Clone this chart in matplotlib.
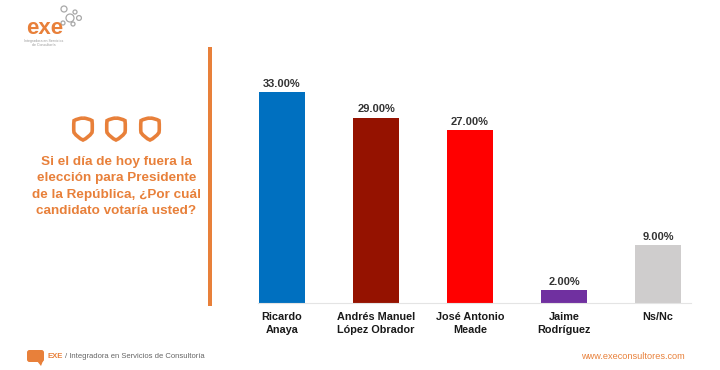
import matplotlib
matplotlib.use("Agg")
import matplotlib.pyplot as plt
from matplotlib.patches import Circle, FancyBboxPatch, PathPatch, Polygon, Rectangle
from matplotlib.path import Path

categories = ["Ricardo\nAnaya", "Andrés Manuel\nLópez Obrador", "José Antonio\nMeade", "Jaime\nRodríguez", "Ns/Nc"]
values = [33, 29, 27, 2, 9]
colors = ["#0070c0", "#951200", "#ff0000", "#7030a0", "#cfcdcd"]
question = "Si el día de hoy fuera la\nelección para Presidente\nde la República, ¿Por cuál\ncandidato votaría usted?"

ORANGE = "#e8803a"
plt.rcParams["font.family"] = ["Liberation Sans", "DejaVu Sans"]
W, H = 720, 370
fig = plt.figure(figsize=(W / 100, H / 100), dpi=100, facecolor="white")

# chart: axes spans 5 category slots of 94 px, baseline at y=302.5
BASE = 302.5
ax = fig.add_axes([235 / W, 1 - BASE / H, 470 / W, 230 / H])
x = list(range(len(values)))
bars = ax.bar(x, values, width=0.48, color=colors)
ax.set_xlim(-0.5, 4.5)
ax.set_ylim(0, 230 / (210.5 / 33))
ax.set_yticks([])
ax.set_xticks(x)
ax.set_xticklabels(categories, fontsize=7.8, fontweight="bold", color="#1a1a1a", linespacing=1.38)
ax.tick_params(axis="x", length=0, pad=6.5)
for s in ("top", "left", "right"):
    ax.spines[s].set_visible(False)
ax.spines["bottom"].set_color("#e4e4e4")
ax.spines["bottom"].set_bounds(-0.255, 4.35)
ax.patch.set_alpha(0)
for b, v in zip(bars, values):
    ax.annotate(f"{v:.2f}%", (b.get_x() + b.get_width() / 2, v), xytext=(0, 2.2),
                textcoords="offset points", ha="center", va="bottom",
                fontsize=8, fontweight="bold", color="#333333")

# overlay in pixel coordinates for slide furniture
ov = fig.add_axes([0, 0, 1, 1], zorder=-1)
ov.set_xlim(0, W)
ov.set_ylim(H, 0)
ov.axis("off")

ov.add_patch(Rectangle((207.5, 47), 4.5, 259, color=ORANGE, lw=0))
ov.text(116.5, 186.5, question, ha="center", va="center", fontsize=9.7, fontweight="bold",
        color=ORANGE, linespacing=1.46)


def shield(cx, top, w, h):
    l, r = cx - w / 2, cx + w / 2
    verts = [(cx, top), (cx + w * .3, top + h * .02), (r, top + h * .12),
             (r + w * .04, top + h * .45), (r, top + h * .66),
             (cx + w * .3, top + h * .9), (cx, top + h),
             (cx - w * .3, top + h * .9), (l, top + h * .66),
             (l - w * .04, top + h * .45), (l, top + h * .12),
             (cx - w * .3, top + h * .02), (cx, top)]
    codes = [Path.MOVETO] + [Path.CURVE3] * 12
    ov.add_patch(PathPatch(Path(verts, codes), fc="none", ec=ORANGE, lw=2.6))


for cx in (83, 116, 150):
    shield(cx, 118, 18, 22)

# logo
ov.text(26.5, 33.5, "exe", fontsize=16, fontweight="bold", color=ORANGE, va="baseline", ha="left")
ov.text(44, 43, "Integradora en Servicios\nde Consultoría", fontsize=2.6, color="#999999",
        ha="center", va="center")
for cx, cy, r in [(64, 9, 3), (70, 18, 4), (75, 12, 2), (79, 18, 2.4), (73, 24, 2), (63, 23, 2)]:
    ov.add_patch(Circle((cx, cy), r, fc="none", ec="#a8a8a8", lw=0.9))

# footer
ov.add_patch(FancyBboxPatch((27, 350), 17, 12, boxstyle="round,pad=0,rounding_size=2.5", fc=ORANGE, ec="none"))
ov.add_patch(Polygon([(37, 361), (43, 361), (41, 366)], fc=ORANGE, ec="none"))
ov.text(48, 356.5, "EXE", fontsize=5.6, fontweight="bold", color=ORANGE, va="center")
ov.text(65, 356.5, "/ Integradora en Servicios de Consultoría", fontsize=5.5, color="#666666", va="center")
ov.text(685, 356.5, "www.execonsultores.com", fontsize=6.6, color=ORANGE, va="center", ha="right")

fig.savefig("out.png", dpi=100, facecolor="white")
